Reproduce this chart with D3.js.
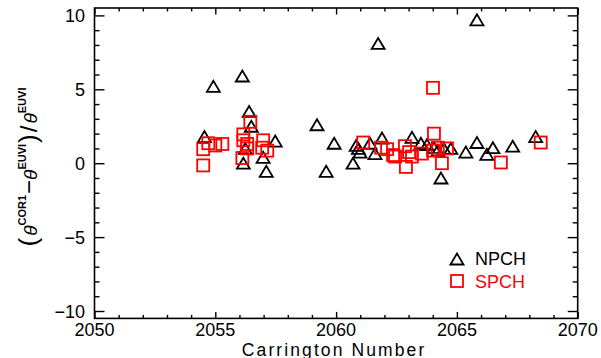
<!DOCTYPE html>
<html>
<head>
<meta charset="utf-8">
<script src="https://cdn.jsdelivr.net/npm/d3@7"></script>
<style>
  html, body { margin: 0; padding: 0; background: #fff; }
  svg { display: block; font-family: "Liberation Sans", Arial, Helvetica, sans-serif; }
</style>
</head>
<body>
<svg id="chart" width="601" height="358"></svg>
<script>
// Carrington rotation and relative angle difference for north polar coronal holes
const npchCarrington = [
  2054.55, 2054.92, 2056.12, 2056.40, 2056.49, 2056.24, 2056.16, 2056.98, 2057.11, 2057.48,
  2059.21, 2059.92, 2059.59, 2060.70, 2060.83, 2060.99, 2060.92, 2061.40, 2061.61, 2061.90,
  2061.74, 2065.83, 2063.14, 2063.51, 2063.76, 2064.05, 2064.21, 2064.46, 2064.34, 2064.75,
  2065.37, 2065.83, 2066.24, 2066.49, 2067.31, 2068.26
];
const npchValues = [
  1.8, 5.2, 5.9, 3.5, 2.5, 1.0, 0.0, 0.4, -0.55, 1.5,
  2.6, 1.35, -0.55, 0.0, 1.2, 0.75, 1.0, 1.35, 0.65, 1.7,
  8.1, 9.7, 1.75, 1.35, 1.25, 1.05, 0.85, 1.0, -1.0, 1.0,
  0.75, 1.4, 0.6, 1.05, 1.15, 1.8
];

// Same quantity for south polar coronal holes
const spchCarrington = [
  2054.50, 2054.50, 2054.71, 2055.00, 2055.29, 2056.45, 2056.16, 2056.16, 2056.32, 2056.32,
  2056.12, 2056.98, 2056.94, 2057.15, 2061.12, 2061.86, 2062.11, 2062.36, 2064.01, 2064.05,
  2062.44, 2062.85, 2062.89, 2063.02, 2063.14, 2063.55, 2064.01, 2064.21, 2064.59, 2064.38,
  2066.82, 2068.47
];
const spchValues = [
  -0.15, 0.95, 1.35, 1.2, 1.3, 2.8, 1.95, 1.55, 1.3, 1.0,
  0.35, 1.55, 1.05, 0.85, 1.4, 1.05, 0.95, 0.55, 5.1, 2.0,
  0.45, 1.15, -0.25, 0.75, 0.45, 0.65, 0.85, 1.05, 1.0, 0.0,
  0.05, 1.4
];

const xTickValues = [2050, 2055, 2060, 2065, 2070];
const yTickValues = [-10, -5, 0, 5, 10];
const legendLabels = ["NPCH", "SPCH"];

const svg = d3.select("#chart");
const plotLeft = 94.5, plotRight = 577.7, plotTop = 8, plotBottom = 318.4;

const x = d3.scaleLinear().domain([2050, 2070]).range([plotLeft, plotRight]);
const y = d3.scaleLinear().domain([-10.5, 10.5]).range([plotBottom, plotTop]);

const axisColor = "#000";
const fmt = d => (d < 0 ? "\u2212" + Math.abs(d) : String(d));

// Frame
svg.append("rect")
  .attr("x", plotLeft).attr("y", plotTop)
  .attr("width", plotRight - plotLeft).attr("height", plotBottom - plotTop)
  .attr("fill", "none").attr("stroke", axisColor).attr("stroke-width", 1.6);

// Ticks on all four sides, pointing inward
function ticks(axisGen, transform, size) {
  const g = svg.append("g").attr("transform", transform)
    .call(axisGen.tickSize(size).tickSizeOuter(0).tickFormat(""));
  g.select(".domain").remove();
  g.selectAll("line").attr("stroke", axisColor).attr("stroke-width", 1.4);
  return g;
}
const xMinor = d3.range(2051, 2070, 1).filter(v => v % 5 !== 0);
const yMinor = d3.range(-10, 11, 1).filter(v => v % 5 !== 0);

ticks(d3.axisTop(x).tickValues(xTickValues), `translate(0,${plotBottom})`, 6.5);
ticks(d3.axisTop(x).tickValues(xMinor), `translate(0,${plotBottom})`, 3.5);
ticks(d3.axisBottom(x).tickValues(xTickValues), `translate(0,${plotTop})`, 6.5);
ticks(d3.axisBottom(x).tickValues(xMinor), `translate(0,${plotTop})`, 3.5);
ticks(d3.axisRight(y).tickValues(yTickValues), `translate(${plotLeft},0)`, 10);
ticks(d3.axisRight(y).tickValues(yMinor), `translate(${plotLeft},0)`, 5);
ticks(d3.axisLeft(y).tickValues(yTickValues), `translate(${plotRight},0)`, 10);
ticks(d3.axisLeft(y).tickValues(yMinor), `translate(${plotRight},0)`, 5);

// Tick labels
const labelStyle = sel => sel.attr("font-size", 18).attr("fill", axisColor);
svg.append("g").selectAll("text").data(xTickValues).join("text")
  .attr("x", d => x(d)).attr("y", 336)
  .attr("text-anchor", "middle").text(fmt).call(labelStyle);
svg.append("g").selectAll("text").data(yTickValues).join("text")
  .attr("x", 85).attr("y", d => y(d) + 6.5)
  .attr("text-anchor", "end").text(fmt).call(labelStyle);

// Axis titles
svg.append("text")
  .attr("x", (plotLeft + plotRight) / 2 - 2).attr("y", 355.5)
  .attr("text-anchor", "middle").attr("font-size", 17.5)
  .attr("letter-spacing", 2.1)
  .text("Carrington Number");

const yTitle = svg.append("text")
  .attr("transform", "translate(37,167) rotate(-90)")
  .attr("text-anchor", "middle");
let lift = 0;
const part = (t, opts) => {
  const s = yTitle.append("tspan").text(t)
    .attr("font-size", opts.size)
    .attr("dy", (opts.lift || 0) - lift);
  lift = opts.lift || 0;
  if (opts.bold) s.attr("font-weight", "bold");
  if (opts.italic) s.attr("font-style", "italic");
  if (opts.dx) s.attr("dx", opts.dx);
  return s;
};
part("(", { size: 26 });
part("\u03b8", { size: 19, italic: true, dx: 2 });
part("COR1", { size: 11, bold: true, lift: -11 });
part("\u2212", { size: 24, dx: 1 });
part("\u03b8", { size: 19, italic: true });
part("EUVI", { size: 11, bold: true, lift: -11 });
part(")", { size: 26, dx: 1 });
part("/", { size: 24, dx: 2 });
part("\u03b8", { size: 19, italic: true, dx: 2 });
part("EUVI", { size: 11, bold: true, lift: -11 });

// Marker shapes
const triPath = (cx, cy) => {
  const w = 6.5, h = 11;
  return `M${cx - w},${cy + h / 2}L${cx},${cy - h / 2}L${cx + w},${cy + h / 2}Z`;
};
const sqSize = 12;

const npch = npchCarrington.map((c, i) => ({ c, v: npchValues[i] }));
const spch = spchCarrington.map((c, i) => ({ c, v: spchValues[i] }));

svg.append("g").selectAll("path").data(npch).join("path")
  .attr("d", d => triPath(x(d.c), y(d.v)))
  .attr("fill", "none").attr("stroke", "#000").attr("stroke-width", 1.8)
  .attr("stroke-linejoin", "miter");

svg.append("g").selectAll("rect").data(spch).join("rect")
  .attr("x", d => x(d.c) - sqSize / 2).attr("y", d => y(d.v) - sqSize / 2)
  .attr("width", sqSize).attr("height", sqSize)
  .attr("fill", "none").attr("stroke", "#ff0000").attr("stroke-width", 1.8);

// Legend
const legend = svg.append("g");
legend.append("path").attr("d", triPath(457, 259))
  .attr("fill", "none").attr("stroke", "#000").attr("stroke-width", 1.8);
legend.append("text").attr("x", 475).attr("y", 264.5).attr("font-size", 18)
  .attr("fill", "#000").text(legendLabels[0]);
legend.append("rect").attr("x", 457 - sqSize / 2).attr("y", 281 - sqSize / 2)
  .attr("width", sqSize).attr("height", sqSize)
  .attr("fill", "none").attr("stroke", "#ff0000").attr("stroke-width", 1.8);
legend.append("text").attr("x", 475).attr("y", 287.5).attr("font-size", 18)
  .attr("fill", "#ff0000").text(legendLabels[1]);
</script>
</body>
</html>
